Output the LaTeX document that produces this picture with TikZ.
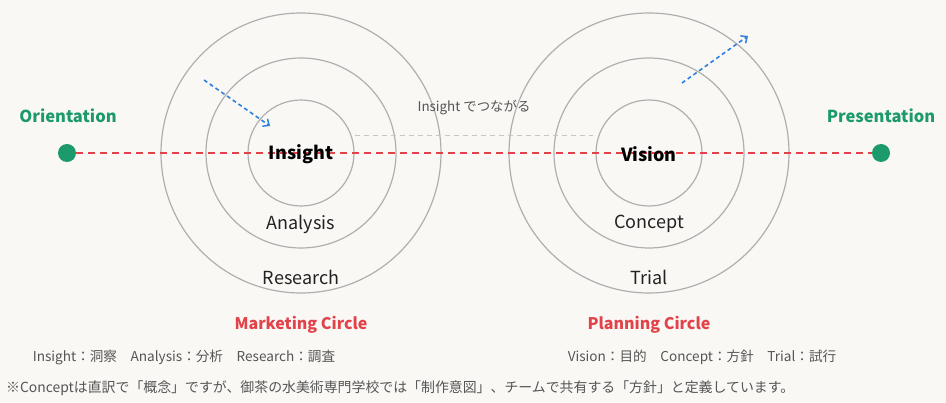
\documentclass[tikz,border=0pt]{standalone}
\usepackage{fontspec}
\setmainfont{Noto Sans CJK JP}
\usetikzlibrary{arrows.meta}
\definecolor{bg}{HTML}{F9F8F5}
\definecolor{ringgray}{HTML}{AFAFAF}
\definecolor{mkred}{HTML}{E2434A}
\definecolor{ptgreen}{HTML}{1C9A6C}
\definecolor{arblue}{HTML}{2F80E0}
\definecolor{txtgray}{HTML}{555555}
\definecolor{dark}{HTML}{222222}
\tikzset{
  ring/.style={draw=ringgray, line width=1.2pt},
  mainlbl/.style={font=\fontsize{18}{21}\selectfont\bfseries, text=black, inner sep=0pt},
  sublbl/.style={font=\fontsize{18}{21}\selectfont, text=dark, inner sep=0pt},
  endlbl/.style={font=\fontsize{16.5}{19}\selectfont\bfseries, text=ptgreen, inner sep=0pt},
  circlbl/.style={font=\fontsize{16}{19}\selectfont\bfseries, text=mkred, inner sep=0pt},
  smalltxt/.style={font=\fontsize{13.6}{16}\selectfont, text=txtgray, inner sep=0pt},
  enddot/.style={circle, fill=ptgreen, minimum size=18pt, inner sep=0pt},
  reddash/.style={draw=mkred, line width=1.5pt, dash pattern=on 7pt off 5pt},
  bluearrow/.style={draw=arblue, line width=1.6pt, dash pattern=on 4pt off 3pt, -{Straight Barb[length=5pt,width=9pt,line width=1.5pt]}},
  graydash/.style={draw=ringgray!70, line width=1pt, dash pattern=on 5pt off 4pt}
}
\begin{document}
\begin{tikzpicture}[x=1pt,y=-1pt]
\fill[bg] (0,0) rectangle (946,403);
\useasboundingbox (0,0) rectangle (946,403);
% rings
\draw[ring] (301,153) circle (140);
\draw[ring] (301,153) circle (95);
\draw[ring] (301,153) circle (53);
\draw[ring] (649,153) circle (140);
\draw[ring] (649,153) circle (95);
\draw[ring] (649,153) circle (53);
% end points
\node[enddot] (ori) at (67,153) {};
\node[enddot] (pre) at (881,153) {};
\node[endlbl] (orilbl) at (68,115.5) {Orientation};
\node[endlbl] (prelbl) at (881,115.5) {Presentation};
% red dashed line
\draw[reddash] (ori.east) -- (pre.west);
% gray link
\coordinate (g1) at (355,136);
\coordinate (g2) at (593,136);
\draw[graydash] (g1) -- (g2);
\node[smalltxt, font=\fontsize{13.4}{16}\selectfont] (link) at (474,107.5) {Insight でつながる};
% labels
\node[mainlbl] (insight) at (301,154) {Insight};
\node[mainlbl] (vision) at (649,154) {Vision};
\node[sublbl] (analysis) at (301,224) {Analysis};
\node[sublbl] (research) at (301,277) {Research};
\node[sublbl] (concept) at (649,224) {Concept};
\node[sublbl] (trial) at (649,277) {Trial};
% blue arrows
\coordinate (a1s) at (204,80);
\coordinate (a1e) at (270,126);
\draw[bluearrow] (a1s) -- (a1e);
\coordinate (a2s) at (682,83);
\coordinate (a2e) at (748,36);
\draw[bluearrow] (a2s) -- (a2e);
% circle titles
\node[circlbl] (mk) at (301,325) {Marketing Circle};
\node[circlbl] (pl) at (649,325) {Planning Circle};
% glossary
\node[smalltxt] (g_l) at (184,357) {Insight：洞察　Analysis：分析　Research：調査};
\node[smalltxt] (g_r) at (702,357) {Vision：目的　Concept：方針　Trial：試行};
\node[smalltxt, font=\fontsize{13.9}{16}\selectfont, anchor=west] (note) at (6,388) {※Conceptは直訳で「概念」ですが、御茶の水美術専門学校では「制作意図」、チームで共有する「方針」と定義しています。};
\end{tikzpicture}
\end{document}
